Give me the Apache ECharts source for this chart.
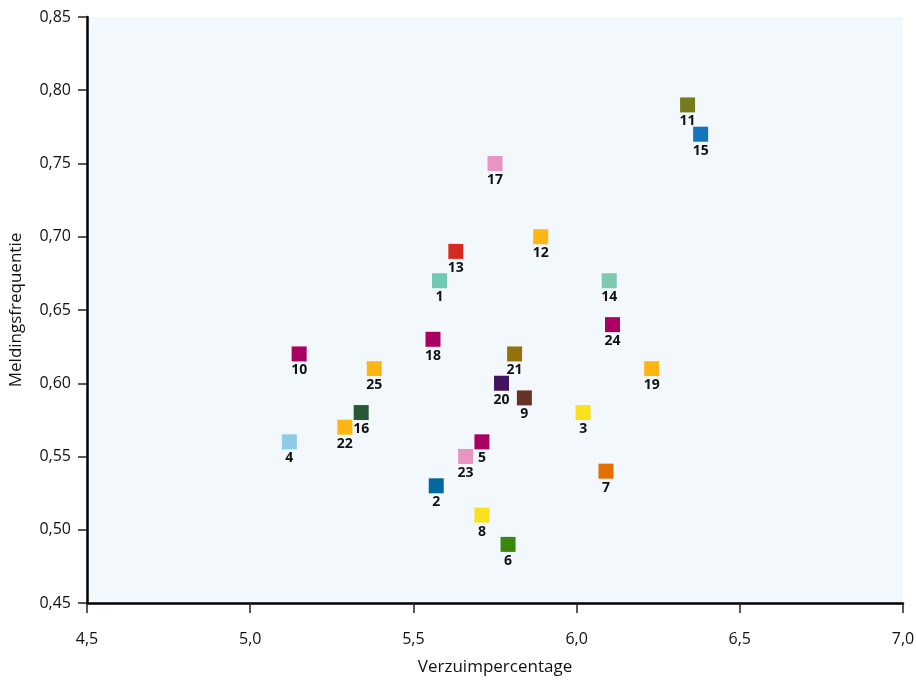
<!DOCTYPE html>
<html><head><meta charset="utf-8">
<script src="https://cdn.jsdelivr.net/npm/echarts@6/dist/echarts.min.js"></script>
<style>html,body{margin:0;padding:0;background:#fff}#c{width:916px;height:682px}</style>
</head><body><div id="c"></div>
<script>
const labels = ['1','2','3','4','5','6','7','8','9','10','11','12','13','14','15','16','17','18','19','20','21','22','23','24','25'];
const verzuim = [5.58,5.57,6.02,5.12,5.71,5.79,6.09,5.71,5.84,5.15,6.34,5.89,5.63,6.10,6.38,5.34,5.75,5.56,6.23,5.77,5.81,5.29,5.66,6.11,5.38];
const melding = [0.67,0.53,0.58,0.56,0.56,0.49,0.54,0.51,0.59,0.62,0.79,0.70,0.69,0.67,0.77,0.58,0.75,0.63,0.61,0.60,0.62,0.57,0.55,0.64,0.61];
const colors = ['#6EC8B2','#00689E','#F9E11E','#8FCAE6','#A90061','#39870C','#E17000','#F9E11E','#673327','#A90061','#777B1E','#FFB612','#D52B1E','#7EC8B0','#1477BE','#275937','#E895C3','#A90061','#FFB612','#42145F','#94710A','#FFB612','#E895C1','#A90061','#FFB612'];
const xTicks = [4.5,5.0,5.5,6.0,6.5,7.0];
const yTicks = [0.45,0.50,0.55,0.60,0.65,0.70,0.75,0.80,0.85];

const font = 'Open Sans';
const data = labels.map((l,i)=>({value:[verzuim[i],melding[i]],name:l,itemStyle:{color:colors[i],opacity:1}}));
const chart = echarts.init(document.getElementById('c'),null,{renderer:'canvas'});
chart.setOption({
  animation:false,
  grid:{left:87,right:13,top:17,bottom:79,show:true,backgroundColor:'#F3F8FC',borderWidth:0,containLabel:false,outerBoundsMode:'none'},
  xAxis:{type:'value',min:xTicks[0],max:xTicks[xTicks.length-1],interval:0.5,
    name:'Verzuimpercentage',nameLocation:'middle',nameGap:56,
    nameTextStyle:{fontFamily:font,fontSize:17,color:'#111'},
    axisLine:{show:true,lineStyle:{color:'#000',width:2.5}},
    axisTick:{show:true,length:10,inside:false,lineStyle:{color:'#222',width:1.5}},
    axisLabel:{fontFamily:font,fontSize:16,color:'#111',margin:28,formatter:v=>v.toFixed(1).replace('.',',')},
    splitLine:{show:false}},
  yAxis:{type:'value',min:yTicks[0],max:yTicks[yTicks.length-1],interval:0.05,
    name:'Meldingsfrequentie',nameLocation:'middle',nameGap:62,nameRotate:90,
    nameTextStyle:{fontFamily:font,fontSize:17,color:'#111'},
    axisLine:{show:true,lineStyle:{color:'#000',width:2.5}},
    axisTick:{show:true,length:9,lineStyle:{color:'#222',width:1.5}},
    axisLabel:{fontFamily:font,fontSize:16,color:'#111',margin:16,formatter:v=>v.toFixed(2).replace('.',',')},
    splitLine:{show:false}},
  series:[{type:'scatter',symbol:'rect',symbolSize:15,data:data,
    itemStyle:{opacity:1},
    emphasis:{disabled:true},
    label:{show:true,position:'bottom',distance:2,formatter:p=>p.name,
      fontFamily:font,fontWeight:'bold',fontSize:14,color:'#111'}}]
});
</script></body></html>
